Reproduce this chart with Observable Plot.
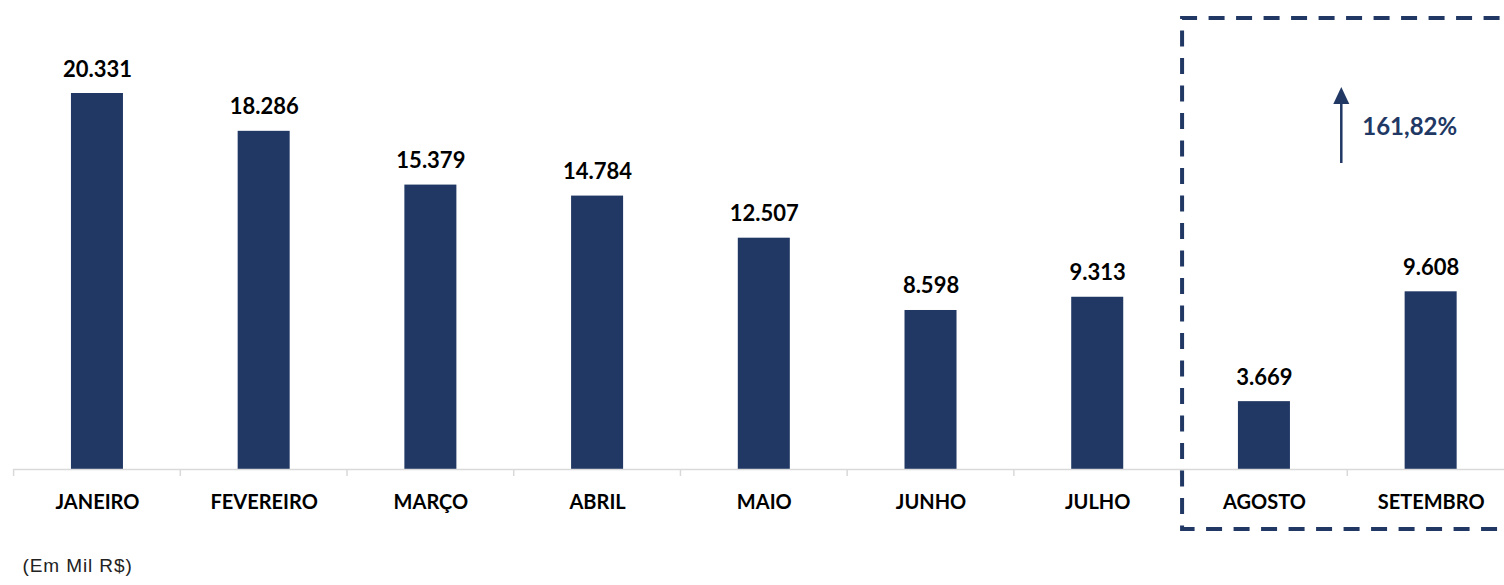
<!DOCTYPE html>
<html>
<head>
<meta charset="utf-8">
<script src="https://cdn.jsdelivr.net/npm/d3@7"></script>
<script src="https://cdn.jsdelivr.net/npm/@observablehq/plot@0.6"></script>
<style>
  html, body { margin: 0; padding: 0; background: #fff; }
  #chart svg { display: block; }
  .caption text { letter-spacing: 0.9px; }
</style>
</head>
<body>
<div id="chart"></div>
<script>
const months = ["JANEIRO", "FEVEREIRO", "MARÇO", "ABRIL", "MAIO", "JUNHO", "JULHO", "AGOSTO", "SETEMBRO"];
const values = [20331, 18286, 15379, 14784, 12507, 8598, 9313, 3669, 9608];
const growthLabel = "161,82%";
const captionText = "(Em Mil R$)";

const data = months.map((m, i) => ({month: m, value: values[i]}));
const navy = "#213864";
const fmt = v => d3.format(",")(v).replace(/,/g, ".");

function annotations(index, scales, values_, dims) {
  const x = scales.x;
  const step = x(months[8]) - x(months[7]);
  const bw = step * (1 - 0.688);
  const off = (step - bw) / 2;
  const g = d3.create("svg:g");
  const base = dims.height - dims.marginBottom;
  // category boundary ticks
  const bounds = months.map(m => x(m) - off).concat([x(months[months.length - 1]) - off + step]);
  g.selectAll("line.t").data(bounds).join("line")
    .attr("x1", d => d).attr("x2", d => d)
    .attr("y1", base).attr("y2", base + 7)
    .attr("stroke", "#d9d9d9").attr("stroke-width", 1.5);
  // dashed box around AGOSTO / SETEMBRO
  const bx = x("AGOSTO") - off + 1.5;
  g.append("path")
    .attr("d", `M${bx + 400},18 H${bx} V529 H${bx + 400}`)
    .attr("fill", "none").attr("stroke", navy).attr("stroke-width", 4)
    .attr("stroke-dasharray", "16,11.5");
  // arrow
  const ax = (x("AGOSTO") + x("SETEMBRO")) / 2 + bw / 2 - 6;
  g.append("line").attr("x1", ax).attr("x2", ax).attr("y1", 163).attr("y2", 100)
    .attr("stroke", navy).attr("stroke-width", 2.5);
  g.append("path").attr("d", `M${ax},87 L${ax - 8},104 L${ax + 8},104 Z`).attr("fill", navy);
  g.append("text").attr("x", ax + 21).attr("y", 126).attr("dy", "0.36em")
    .attr("text-anchor", "start")
    .attr("fill", navy).attr("font-weight", "bold").attr("font-size", 24)
    .attr("font-family", "Lato, sans-serif").text(growthLabel);
  return g.node();
}

const chart = Plot.plot({
  width: 1504,
  height: 585,
  marginLeft: 13,
  marginRight: 0,
  marginTop: 0,
  marginBottom: 116,
  style: {fontFamily: "Lato, sans-serif", background: "#fff"},
  x: {domain: months, range: [13.6, 1514], paddingInner: 0.688, paddingOuter: 0.344, round: false, label: null},
  y: {domain: [0, 20331], range: [469, 93], axis: null},
  marks: [
    Plot.barY(data, {x: "month", y: "value", fill: navy}),
    Plot.ruleY([0], {stroke: "#d9d9d9", strokeWidth: 1.5}),
    Plot.text(data, {x: "month", y: "value", text: d => fmt(d.value), lineAnchor: "bottom", dy: -17,
      fontSize: 22, fontWeight: "bold", fill: "#000"}),
    Plot.axisX({tickSize: 0, tickPadding: 25, fontSize: 20, fontWeight: "bold", color: "#000", label: null}),
    Plot.text([captionText], {frameAnchor: "bottom-left", dx: 9, dy: 102, text: d => d, fontSize: 19,
      fontFamily: "Liberation Sans, Arial, sans-serif", fill: "#222", textAnchor: "start", className: "caption"}),
    annotations
  ]
});
document.getElementById("chart").appendChild(chart);
</script>
</body>
</html>
